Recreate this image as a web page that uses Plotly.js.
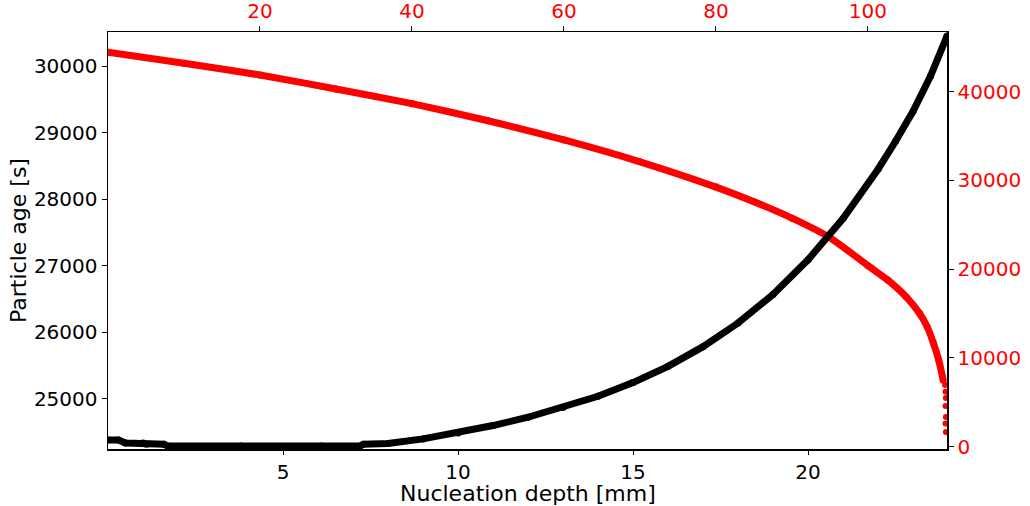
<!DOCTYPE html>
<html>
<head>
<meta charset="utf-8">
<script src="https://cdn.plot.ly/plotly-3.0.1.min.js"></script>
<style>
html,body{margin:0;padding:0;background:#fff;}
#chart{width:1030px;height:506px;}
</style>
</head>
<body>
<div id="chart"></div>
<script>
// Black series: particle age [s] vs nucleation depth [mm] (bottom / left axes)
var depthMm = [0, 0.3, 0.5, 1.0, 1.1, 1.6, 1.7, 3.8, 3.9, 6.0, 6.1, 7.2, 7.3, 8, 9, 10, 11, 12, 13, 14, 15, 16, 17, 18, 19, 20, 21, 22, 22.5, 23, 23.5, 23.97];
var particleAge = [24383, 24383, 24338, 24338, 24320, 24320, 24293, 24293, 24274, 24274, 24293, 24293, 24320, 24330, 24400, 24490, 24600, 24725, 24870, 25040, 25245, 25490, 25785, 26140, 26570, 27090, 27710, 28450, 28870, 29320, 29850, 30451];

// Red series (top / right axes)
var redX = [0, 10, 20, 30, 40, 50, 60, 70, 80, 85, 90, 95, 100, 102.6, 105, 106.8, 107.8, 108.6, 109.3, 109.9];
var redY = [44440, 43200, 41880, 40300, 38650, 36730, 34560, 32100, 29250, 27600, 25750, 23550, 20400, 18780, 16900, 15000, 13500, 11700, 9800, 7500];
var redTailX = [110.15, 110.2, 110.25, 110.2, 110.25, 110.2, 110.25];
var redTailY = [6950, 6200, 5490, 4590, 3350, 2600, 1650];

// Axis tick labels and titles
var bottomTicks = [5, 10, 15, 20];
var leftTicks = [25000, 26000, 27000, 28000, 29000, 30000];
var topTicks = [20, 40, 60, 80, 100];
var rightTicks = [0, 10000, 20000, 30000, 40000];
var xTitle = 'Nucleation depth [mm]';
var yTitle = 'Particle age [s]';

var FONT = 'DejaVu Sans, Liberation Sans, sans-serif';

var traces = [
  {
    x: redX, y: redY, xaxis: 'x', yaxis: 'y',
    mode: 'lines+markers', type: 'scatter',
    line: {color: '#ff0000', width: 7, shape: 'spline', smoothing: 0.6},
    marker: {color: '#ff0000', size: 7},
    hoverinfo: 'skip', showlegend: false
  },
  {
    x: redTailX, y: redTailY, xaxis: 'x', yaxis: 'y',
    mode: 'markers', type: 'scatter',
    marker: {color: '#ff0000', size: 6},
    hoverinfo: 'skip', showlegend: false
  },
  {
    x: depthMm, y: particleAge, xaxis: 'x2', yaxis: 'y2',
    mode: 'lines+markers', type: 'scatter',
    line: {color: '#000000', width: 7},
    marker: {color: '#000000', size: 7},
    hoverinfo: 'skip', showlegend: false
  }
];

var layout = {
  width: 1030, height: 506,
  margin: {l: 108, r: 83, t: 32, b: 57, pad: 0},
  paper_bgcolor: '#ffffff', plot_bgcolor: '#ffffff',
  font: {family: FONT, size: 20, color: '#000000'},
  showlegend: false,
  // top axis (red series)
  xaxis: {
    side: 'top', range: [0, 110.4],
    tickmode: 'array', tickvals: topTicks, ticktext: topTicks.map(String),
    ticks: 'outside', ticklen: 5, tickwidth: 1, tickcolor: '#000',
    tickfont: {family: FONT, size: 20, color: '#ff0000'},
    showgrid: false, zeroline: false, showline: true, linecolor: '#000', linewidth: 1.5
  },
  // right axis (red series)
  yaxis: {
    side: 'right', range: [-260, 46727],
    tickmode: 'array', tickvals: rightTicks, ticktext: rightTicks.map(String),
    ticks: 'outside', ticklen: 5, tickwidth: 1, tickcolor: '#000',
    tickfont: {family: FONT, size: 20, color: '#ff0000'},
    showgrid: false, zeroline: false, showline: true, linecolor: '#000', linewidth: 1.5
  },
  // bottom axis (black series)
  xaxis2: {
    overlaying: 'x', side: 'bottom', range: [0, 23.97],
    tickmode: 'array', tickvals: bottomTicks, ticktext: bottomTicks.map(String),
    ticks: 'outside', ticklen: 4, tickwidth: 1, tickcolor: '#000',
    tickfont: {family: FONT, size: 20, color: '#000'},
    showgrid: false, zeroline: false, showline: true, linecolor: '#000', linewidth: 1.5
  },
  // left axis (black series)
  yaxis2: {
    overlaying: 'y', side: 'left', range: [24248, 30511],
    tickmode: 'array', tickvals: leftTicks, ticktext: leftTicks.map(String),
    ticks: 'outside', ticklen: 5, tickwidth: 1, tickcolor: '#000',
    tickfont: {family: FONT, size: 20, color: '#000'},
    showgrid: false, zeroline: false, showline: true, linecolor: '#000', linewidth: 1.5,
    title: {text: yTitle, font: {family: FONT, size: 22, color: '#000'}, standoff: 1}
  },
  annotations: [
    {
      text: xTitle, xref: 'paper', yref: 'paper', x: 0.5, y: -0.1075,
      xanchor: 'center', yanchor: 'middle', showarrow: false,
      font: {family: FONT, size: 22, color: '#000'}
    }
  ]
};

Plotly.newPlot('chart', traces, layout, {staticPlot: true, displayModeBar: false});
</script>
</body>
</html>
